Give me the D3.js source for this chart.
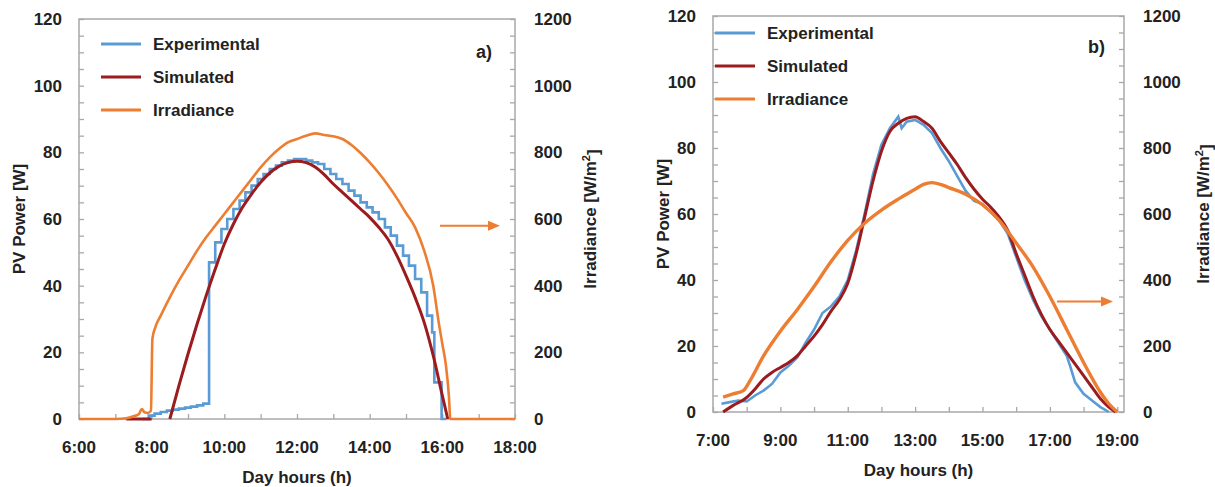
<!DOCTYPE html>
<html>
<head>
<meta charset="utf-8">
<script src="https://cdn.jsdelivr.net/npm/d3@7"></script>
<style>
  body { margin: 0; background: #fff; }
  text { font-family: "Liberation Sans", Arial, sans-serif; font-weight: bold; fill: #222; }
</style>
</head>
<body>
<div id="chart"></div>
<script>
// ------------------------------------------------------
// Size of the picture
const width = 1215
const height = 487

// ------------------------------------------------------
// Data. [hour, value]

// a) PV power [W]
const aExperimental = [
  [7.75, 0], [7.92, 1.0], [8.08, 1.6], [8.25, 2.1], [8.42, 2.5], [8.58, 2.8], [8.75, 3.1],
  [8.92, 3.4], [9.08, 3.7], [9.25, 4.1], [9.42, 4.6], [9.58, 47], [9.75, 53], [9.92, 57],
  [10.08, 60], [10.25, 63], [10.42, 65.5], [10.58, 68], [10.75, 70], [10.92, 72], [11.08, 73.5],
  [11.25, 75], [11.42, 76], [11.58, 77], [11.75, 77.5], [11.92, 78], [12.08, 78], [12.25, 77.5],
  [12.42, 77], [12.58, 76.5], [12.75, 75], [12.92, 73.5], [13.08, 72], [13.25, 70.5], [13.42, 68.5],
  [13.58, 67], [13.75, 65], [13.92, 63.5], [14.08, 62], [14.25, 60], [14.42, 57.5], [14.58, 55],
  [14.75, 52], [14.92, 49], [15.08, 46], [15.25, 42], [15.42, 38], [15.58, 31], [15.72, 26],
  [15.78, 11], [15.98, 0], [16.1, 0]
]
const aSimulated = [
  [7.3, 0], [7.6, 0], [8.0, 0], [8.25, null],
  [8.5, 0], [8.75, 10], [9.0, 19.5], [9.25, 28.5], [9.5, 37], [9.75, 45], [10.0, 52.5], [10.25, 58.5],
  [10.5, 63.5], [10.75, 67.5], [11.0, 71], [11.25, 73.8], [11.5, 75.8], [11.75, 76.9], [12.0, 77.3],
  [12.25, 76.9], [12.5, 75.6], [12.75, 73.3], [13.0, 70.5], [13.25, 68], [13.5, 65.5], [13.75, 63],
  [14.0, 60.5], [14.25, 57.5], [14.5, 54], [14.75, 49], [15.0, 43], [15.25, 36.5], [15.5, 29],
  [15.75, 19], [16.0, 7], [16.15, 0]
]
// a) irradiance [W/m2]
const aIrradiance = [
  [6.0, 0], [7.0, 0], [7.3, 2], [7.5, 8], [7.65, 15], [7.73, 30], [7.8, 20], [7.9, 18], [7.98, 25],
  [8.02, 240], [8.1, 275], [8.25, 310], [8.5, 365], [8.75, 415], [9.0, 460], [9.25, 505], [9.5, 545],
  [9.75, 580], [10.0, 615], [10.25, 650], [10.5, 685], [10.75, 720], [11.0, 755], [11.25, 785],
  [11.5, 810], [11.75, 830], [12.0, 840], [12.25, 850], [12.5, 857], [12.75, 852], [13.0, 848],
  [13.25, 840], [13.5, 822], [13.75, 798], [14.0, 770], [14.25, 738], [14.5, 702], [14.75, 662],
  [15.0, 618], [15.25, 575], [15.5, 505], [15.75, 400], [15.9, 290], [16.0, 225], [16.1, 160],
  [16.18, 70], [16.22, 0], [18.0, 0]
]

// b) PV power [W]
const bExperimental = [
  [7.25, 2.5], [7.5, 3], [7.75, 3.5], [8.0, 3.2], [8.25, 5], [8.5, 6.5], [8.75, 8.5], [9.0, 12],
  [9.25, 14], [9.5, 16.5], [9.75, 21], [10.0, 25], [10.25, 30], [10.5, 32], [10.75, 35], [11.0, 40],
  [11.25, 49], [11.5, 60], [11.75, 72], [12.0, 81], [12.25, 86], [12.5, 89.5], [12.6, 86],
  [12.75, 88], [13.0, 88.5], [13.25, 87], [13.5, 84.5], [13.75, 80], [14.0, 76], [14.25, 71.5],
  [14.5, 67], [14.75, 64], [15.0, 63], [15.25, 60.5], [15.5, 58], [15.75, 54], [16.0, 47],
  [16.25, 40], [16.5, 34], [16.75, 29], [17.0, 25], [17.25, 21], [17.5, 17], [17.6, 14],
  [17.75, 9], [18.0, 5.5], [18.25, 3.5], [18.5, 1.5], [18.75, 0]
]
const bSimulated = [
  [7.3, 0], [7.6, 2], [7.95, 4], [8.25, 7], [8.5, 10], [8.75, 12], [9.0, 13.5], [9.25, 15],
  [9.5, 17], [9.75, 20], [10.0, 23], [10.25, 26.5], [10.5, 30.5], [10.75, 34], [11.0, 39],
  [11.25, 48], [11.5, 59], [11.75, 70], [12.0, 79], [12.25, 85], [12.5, 87.5], [12.75, 89],
  [13.0, 89.5], [13.25, 88], [13.5, 86], [13.75, 82], [14.0, 78.5], [14.25, 75], [14.5, 71],
  [14.75, 67.5], [15.0, 64.5], [15.25, 62], [15.5, 59], [15.75, 55], [16.0, 48], [16.25, 41.5],
  [16.5, 35], [16.75, 29.5], [17.0, 25], [17.25, 21.5], [17.5, 18], [17.75, 14.5], [18.0, 11],
  [18.25, 7.5], [18.5, 4], [18.75, 1.5], [18.95, 0]
]
// b) irradiance [W/m2]
const bIrradiance = [
  [7.3, 45], [7.6, 55], [7.9, 65], [8.1, 95], [8.5, 170], [9.0, 245], [9.5, 310], [10.0, 380],
  [10.5, 455], [11.0, 520], [11.5, 572], [12.0, 612], [12.5, 645], [13.0, 675], [13.25, 690],
  [13.5, 695], [13.75, 690], [14.0, 680], [14.5, 660], [15.0, 628], [15.5, 580], [16.0, 512],
  [16.5, 440], [17.0, 350], [17.5, 250], [18.0, 150], [18.5, 60], [18.75, 25], [19.0, 0]
]

// Axis ticks
const powerTicks = [0, 20, 40, 60, 80, 100, 120]
const irrTicks = [0, 200, 400, 600, 800, 1000, 1200]
const aHourLabels = [6, 8, 10, 12, 14, 16, 18]
const bHourLabels = [7, 9, 11, 13, 15, 17, 19]
const seriesNames = ['Experimental', 'Simulated', 'Irradiance']

const colors = { exp: '#5b9bd5', sim: '#9b1c1f', irr: '#ed7d31' }
const axisColor = '#a8a8a8'

const svg = d3.select('#chart')
  .append('svg')
  .attr('width', width)
  .attr('height', height)

// ------------------------------------------------------
// Draw one panel
function drawPanel(cfg) {
  const x = d3.scaleLinear().domain(cfg.xDomain).range([cfg.left, cfg.right])
  const y = d3.scaleLinear().domain([0, 120]).range([cfg.bottom, cfg.top])
  const y2 = d3.scaleLinear().domain([0, 1200]).range([cfg.bottom, cfg.top])

  const g = svg.append('g')

  // frame
  g.append('rect')
    .attr('x', cfg.left).attr('y', cfg.top)
    .attr('width', cfg.right - cfg.left).attr('height', cfg.bottom - cfg.top)
    .attr('fill', 'none').attr('stroke', axisColor).attr('stroke-width', 1.5)

  // inward ticks
  const leftAxis = d3.axisRight(y).tickValues(d3.range(0, 121, 5)).tickSize(5).tickFormat('')
  const rightAxis = d3.axisLeft(y2).tickValues(d3.range(0, 1201, 50)).tickSize(5).tickFormat('')
  const hours = d3.range(Math.ceil(cfg.xDomain[0]), Math.floor(cfg.xDomain[1]) + 1)
  const bottomAxis = d3.axisTop(x).tickValues(hours).tickSize(5).tickFormat('')

  g.append('g').attr('transform', `translate(${cfg.left},0)`).call(leftAxis)
  g.append('g').attr('transform', `translate(${cfg.right},0)`).call(rightAxis)
  g.append('g').attr('transform', `translate(0,${cfg.bottom})`).call(bottomAxis)
  g.selectAll('.domain').remove()
  g.selectAll('.tick line').attr('stroke', axisColor).attr('stroke-width', 1.3)

  // tick labels
  g.selectAll('.ylab')
    .data(powerTicks).enter().append('text')
    .attr('x', cfg.left - 17).attr('y', d => y(d)).attr('dy', '0.35em')
    .attr('text-anchor', 'end').attr('font-size', 17).text(d => d)
  g.selectAll('.y2lab')
    .data(irrTicks).enter().append('text')
    .attr('x', cfg.right + 19).attr('y', d => y2(d)).attr('dy', '0.35em')
    .attr('font-size', 17).text(d => d)
  g.selectAll('.xlab')
    .data(cfg.hourLabels).enter().append('text')
    .attr('x', d => x(d)).attr('y', cfg.bottom + 28).attr('dy', '0.35em')
    .attr('text-anchor', 'middle').attr('font-size', 17).text(d => d + ':00')

  // axis titles
  g.append('text')
    .attr('x', (cfg.left + cfg.right) / 2).attr('y', cfg.bottom + 58).attr('dy', '0.35em')
    .attr('text-anchor', 'middle').attr('font-size', 17).text('Day hours (h)')
  g.append('text')
    .attr('transform', `translate(${cfg.leftTitleX},${(cfg.top + cfg.bottom) / 2}) rotate(-90)`)
    .attr('dy', '0.35em').attr('text-anchor', 'middle').attr('font-size', 17).text('PV Power [W]')
  const rt = g.append('text')
    .attr('transform', `translate(${cfg.rightTitleX},${(cfg.top + cfg.bottom) / 2}) rotate(-90)`)
    .attr('dy', '0.35em').attr('text-anchor', 'middle').attr('font-size', 17)
  rt.append('tspan').text('Irradiance [W/m')
  rt.append('tspan').attr('dy', '-0.5em').attr('font-size', 11).text('2')
  rt.append('tspan').attr('dy', '0.5em').text(']')

  // lines
  const powerLine = d3.line()
    .defined(d => d[1] !== null)
    .x(d => x(d[0])).y(d => y(d[1]))
  const irrLine = d3.line()
    .x(d => x(d[0])).y(d => y2(d[1]))

  g.append('path').datum(cfg.exp)
    .attr('d', powerLine.curve(cfg.expCurve))
    .attr('fill', 'none').attr('stroke', colors.exp).attr('stroke-width', 2.6)
  g.append('path').datum(cfg.sim)
    .attr('d', powerLine.curve(d3.curveMonotoneX))
    .attr('fill', 'none').attr('stroke', colors.sim).attr('stroke-width', 3)
  g.append('path').datum(cfg.irr)
    .attr('d', irrLine.curve(d3.curveMonotoneX))
    .attr('fill', 'none').attr('stroke', colors.irr).attr('stroke-width', cfg.irrWidth)

  // legend
  const lg = g.append('g')
  const lcol = [colors.exp, colors.sim, colors.irr]
  seriesNames.forEach((name, i) => {
    const ly = cfg.legendY + i * cfg.legendGap
    lg.append('line')
      .attr('x1', cfg.legendX).attr('x2', cfg.legendX + 40)
      .attr('y1', ly).attr('y2', ly)
      .attr('stroke', lcol[i]).attr('stroke-width', 3)
    lg.append('text')
      .attr('x', cfg.legendX + 52).attr('y', ly).attr('dy', '0.35em')
      .attr('font-size', 17).text(name)
  })

  // panel tag
  g.append('text')
    .attr('x', cfg.tagX).attr('y', cfg.tagY).attr('dy', '0.35em')
    .attr('font-size', 18).text(cfg.tag)

  // arrow pointing to the irradiance axis
  const ay = y(cfg.arrowAt)
  g.append('line')
    .attr('x1', cfg.arrowX[0]).attr('x2', cfg.arrowX[1] - 8)
    .attr('y1', ay).attr('y2', ay)
    .attr('stroke', colors.irr).attr('stroke-width', 2)
  g.append('path')
    .attr('d', `M${cfg.arrowX[1]},${ay} l-12,-5 l0,10 z`)
    .attr('fill', colors.irr)
}

drawPanel({
  left: 79, right: 515, top: 19, bottom: 419,
  xDomain: [6, 18], hourLabels: aHourLabels,
  exp: aExperimental, sim: aSimulated, irr: aIrradiance,
  expCurve: d3.curveStepAfter, irrWidth: 2.6,
  leftTitleX: 19, rightTitleX: 590,
  legendX: 101, legendY: 44, legendGap: 33,
  tag: 'a)', tagX: 476, tagY: 52,
  arrowAt: 58, arrowX: [440, 500]
})

drawPanel({
  left: 713, right: 1124, top: 16, bottom: 412,
  xDomain: [7, 19.2], hourLabels: bHourLabels,
  exp: bExperimental, sim: bSimulated, irr: bIrradiance,
  expCurve: d3.curveLinear, irrWidth: 3.4,
  leftTitleX: 663, rightTitleX: 1203,
  legendX: 715, legendY: 33, legendGap: 33,
  tag: 'b)', tagX: 1088, tagY: 47,
  arrowAt: 33.5, arrowX: [1057, 1113]
})
</script>
</body>
</html>
